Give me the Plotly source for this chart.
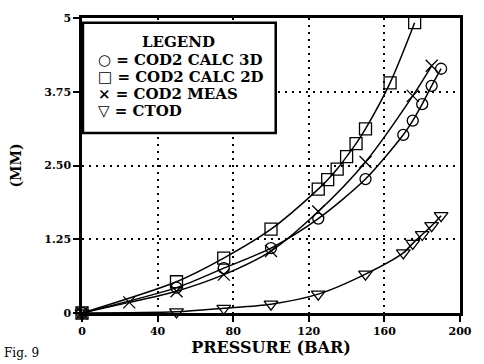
import plotly.graph_objects as go

# ---- data ----
press_3d = [0, 50, 75, 100, 125, 150, 170, 175, 180, 185, 190]
cod_3d = [0, 0.43, 0.76, 1.10, 1.60, 2.27, 3.02, 3.26, 3.54, 3.85, 4.14]

press_2d = [0, 50, 75, 100, 125, 130, 135, 140, 145, 150, 163, 176]
cod_2d = [0, 0.53, 0.93, 1.42, 2.10, 2.26, 2.44, 2.65, 2.87, 3.12, 3.90, 4.92]

press_meas = [0, 25, 50, 75, 100, 125, 150, 175, 185]
cod_meas = [0, 0.18, 0.37, 0.65, 1.05, 1.72, 2.56, 3.68, 4.19]

press_ctod = [0, 50, 75, 100, 125, 150, 170, 175, 180, 185, 190]
ctod = [0, 0.02, 0.08, 0.15, 0.32, 0.66, 1.02, 1.18, 1.33, 1.48, 1.65]

x_ticks = [0, 40, 80, 120, 160, 200]
y_ticks = [0, 1.25, 2.5, 3.75, 5]
y_ticklabels = ["0", "1.25", "2.50", "3.75", "5"]

legend_lines = ["○ = COD2 CALC 3D", "□ = COD2 CALC 2D", "× = COD2 MEAS", "▽ = CTOD"]

FONT = "DejaVu Serif"

series = [
    (press_3d, cod_3d, "circle-open", 11, "COD2 CALC 3D"),
    (press_2d, cod_2d, "square-open", 12, "COD2 CALC 2D"),
    (press_meas, cod_meas, "x-thin-open", 12, "COD2 MEAS"),
    (press_ctod, ctod, "triangle-down-open", 12, "CTOD"),
]

fig = go.Figure()
for xs, ys, sym, sz, name in series:
    fig.add_trace(go.Scatter(
        x=xs, y=ys, mode="lines+markers", name=name,
        line=dict(color="black", width=1.5, shape="spline", smoothing=0.8),
        marker=dict(symbol=sym, size=sz, color="black",
                    line=dict(color="black", width=1.3)),
        cliponaxis=False, showlegend=False,
    ))

# legend box
fig.add_shape(type="rect", xref="x", yref="y", x0=0.5, x1=102.5, y0=3.05, y1=4.92,
              line=dict(color="black", width=2.5), fillcolor="white", layer="above")

fig.add_annotation(x=51, y=4.6, xref="x", yref="y", text="<b>LEGEND</b>",
                   showarrow=False, font=dict(family=FONT, size=15, color="black"))
leg_y = [4.29, 4.0, 3.71, 3.43]
for txt, yy in zip(legend_lines, leg_y):
    fig.add_annotation(x=7.5, y=yy, xref="x", yref="y", text="<b>" + txt + "</b>",
                       showarrow=False, xanchor="left",
                       font=dict(family=FONT, size=15, color="black"))

fig.add_annotation(x=0.0, y=0, xref="paper", yref="paper", xshift=-80, yshift=-49,
                   text="Fig. 9", showarrow=False, xanchor="left", yanchor="bottom",
                   font=dict(family=FONT, size=12, color="black"))

axis_common = dict(
    showline=True, linecolor="black", linewidth=2.5, mirror=True,
    ticks="outside", ticklen=6, tickwidth=1.5, tickcolor="black",
    showgrid=True, gridcolor="black", gridwidth=1.5, griddash="2px,5px",
    zeroline=False,
    tickfont=dict(family=FONT, size=11, color="black", weight="bold"),
)

fig.update_xaxes(range=[0, 200], tickvals=x_ticks, ticktext=[str(v) for v in x_ticks],
                 title=dict(text="<b>PRESSURE (BAR)</b>", standoff=3,
                            font=dict(family=FONT, size=16, color="black")),
                 **axis_common)
fig.update_yaxes(range=[0, 5], tickvals=y_ticks, ticktext=y_ticklabels,
                 title=dict(text="<b>(MM)</b>", standoff=20,
                            font=dict(family=FONT, size=14, color="black")),
                 **axis_common)

fig.update_layout(
    width=484, height=364,
    margin=dict(l=82, r=14, t=15, b=49),
    paper_bgcolor="white", plot_bgcolor="white",
    showlegend=False,
)

fig.write_html("out.html")
